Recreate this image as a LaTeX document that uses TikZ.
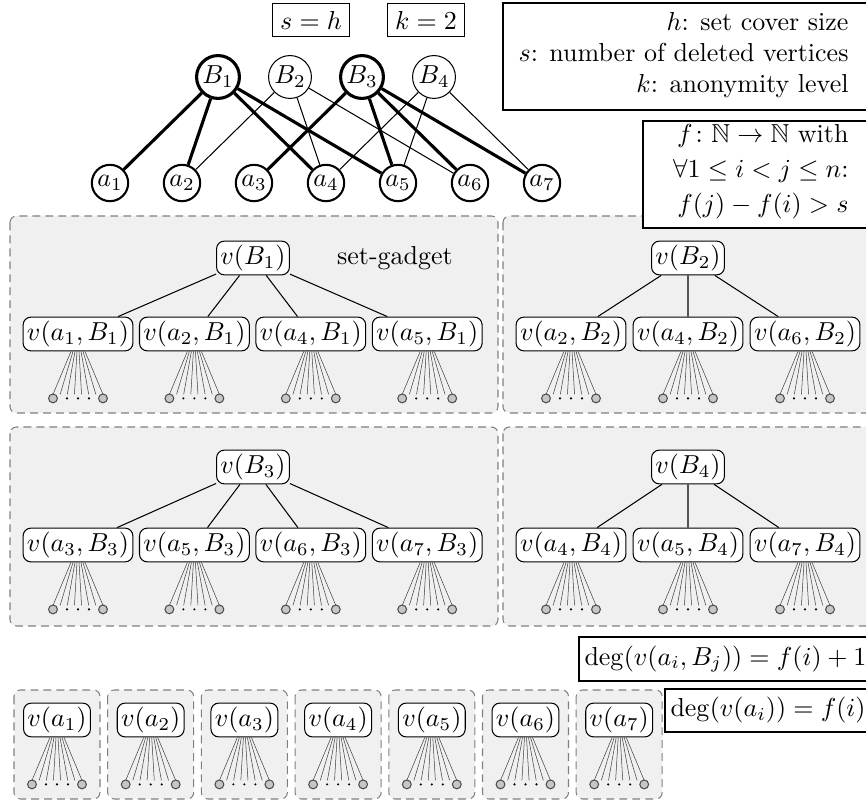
\documentclass[tikz,border=0pt]{standalone}
\usepackage{amsmath}
\usepackage{amssymb}
\usetikzlibrary{calc,positioning}

% leaves hanging below a gadget vertex
\newcommand{\leaffan}[1]{%
  \foreach \k in {0,...,7}
    \draw[fanline] ($(#1.south)+({-7+14*\k/7},0)$) -- ($(#1.south)+({-25+50*\k/7},43)$);
  \node[leaf] (#1l) at ($(#1.south)+(-25,47)$) {};
  \node[leaf] (#1r) at ($(#1.south)+(25,47)$) {};
  \foreach \k in {-11,0,11}
    \fill ($(#1.south)+(\k,47)$) circle (0.45pt);
}

\begin{document}
\begin{tikzpicture}[x=0.385pt,y=-0.385pt,
    setnode/.style={circle,draw,minimum size=16.5pt,inner sep=0pt},
    elemnode/.style={circle,draw,thick,minimum size=14pt,inner sep=0pt},
    chosen/.style={very thick},
    vnode/.style={draw,fill=white,rounded corners=3pt,inner sep=1.5pt},
    gadget/.style={draw=gray,fill=gray!12,dash pattern=on 3pt off 2pt,rounded corners=2.5pt},
    infobox/.style={draw,inner sep=3pt},
    leaf/.style={circle,draw=black!70,fill=gray!45,inner sep=0pt,minimum size=3.4pt},
    fanline/.style={black!75,very thin}]

    \useasboundingbox (0,0) rectangle (866,802);

    % gadget backgrounds
    \draw[gadget] (10,216) rectangle (498,413);
    \draw[gadget] (503,216) rectangle (880,413);
    \draw[gadget] (10,427) rectangle (498,626);
    \draw[gadget] (503,427) rectangle (880,626);

    % set cover instance
    \node[infobox] (sh) at (311,20) {$s=h$};
    \node[infobox] (k2) at (426,20) {$k=2$};

    \node[setnode,chosen] (B1) at (218,77) {$B_1$};
    \node[setnode] (B2) at ($(B1)+(72,0)$) {$B_2$};
    \node[setnode,chosen] (B3) at ($(B2)+(72,0)$) {$B_3$};
    \node[setnode] (B4) at ($(B3)+(72,0)$) {$B_4$};

    \node[elemnode] (a1) at (110,183) {$a_1$};
    \node[elemnode] (a2) at ($(a1)+(72,0)$) {$a_2$};
    \node[elemnode] (a3) at ($(a2)+(72,0)$) {$a_3$};
    \node[elemnode] (a4) at ($(a3)+(72,0)$) {$a_4$};
    \node[elemnode] (a5) at ($(a4)+(72,0)$) {$a_5$};
    \node[elemnode] (a6) at ($(a5)+(72,0)$) {$a_6$};
    \node[elemnode] (a7) at ($(a6)+(72,0)$) {$a_7$};

    \draw (B2)--(a2) (B2)--(a4) (B2)--(a6);
    \draw (B4)--(a4) (B4)--(a5) (B4)--(a7);
    \draw[chosen] (B1)--(a1) (B1)--(a2) (B1)--(a4) (B1)--(a5);
    \draw[chosen] (B3)--(a3) (B3)--(a5) (B3)--(a6) (B3)--(a7);

    % parameters
    \draw (503,3) rectangle (880,110);
    \node[align=right,anchor=east,inner sep=0pt] (legend) at (849,55)
      {$h$: set cover size\\ $s$: number of deleted vertices\\ $k$: anonymity level};
    \draw[fill=white] (643,121) rectangle (880,228);
    \node[align=right,anchor=east,inner sep=0pt] (fdef) at (849,172)
      {$f\colon \mathbb{N}\to\mathbb{N}$ with\\[1.5pt] $\forall 1\le i<j\le n$:\\[1.5pt] $f(j)-f(i)>s$};

    % set-gadget B1
    \node[vnode] (vB1) at (253,258) {$v(B_1)$};
    \node (sglabel) at (395,258) {set-gadget};
    \node[vnode] (va1B1) at (78,334) {$v(a_1,B_1)$};
    \node[vnode] (va2B1) at ($(va1B1)+(116.4,0)$) {$v(a_2,B_1)$};
    \node[vnode] (va4B1) at ($(va2B1)+(116.4,0)$) {$v(a_4,B_1)$};
    \node[vnode] (va5B1) at ($(va4B1)+(116.4,0)$) {$v(a_5,B_1)$};
    \draw (vB1)--(va1B1) (vB1)--(va2B1) (vB1)--(va4B1) (vB1)--(va5B1);
    \leaffan{va1B1} \leaffan{va2B1} \leaffan{va4B1} \leaffan{va5B1}

    % set-gadget B2
    \node[vnode] (vB2) at (688,258) {$v(B_2)$};
    \node[vnode] (va2B2) at (571,334) {$v(a_2,B_2)$};
    \node[vnode] (va4B2) at ($(va2B2)+(117,0)$) {$v(a_4,B_2)$};
    \node[vnode] (va6B2) at ($(va4B2)+(117,0)$) {$v(a_6,B_2)$};
    \draw (vB2)--(va2B2) (vB2)--(va4B2) (vB2)--(va6B2);
    \leaffan{va2B2} \leaffan{va4B2} \leaffan{va6B2}

    % set-gadget B3
    \node[vnode] (vB3) at (253,467) {$v(B_3)$};
    \node[vnode] (va3B3) at (78,545) {$v(a_3,B_3)$};
    \node[vnode] (va5B3) at ($(va3B3)+(116.4,0)$) {$v(a_5,B_3)$};
    \node[vnode] (va6B3) at ($(va5B3)+(116.4,0)$) {$v(a_6,B_3)$};
    \node[vnode] (va7B3) at ($(va6B3)+(116.4,0)$) {$v(a_7,B_3)$};
    \draw (vB3)--(va3B3) (vB3)--(va5B3) (vB3)--(va6B3) (vB3)--(va7B3);
    \leaffan{va3B3} \leaffan{va5B3} \leaffan{va6B3} \leaffan{va7B3}

    % set-gadget B4
    \node[vnode] (vB4) at (688,467) {$v(B_4)$};
    \node[vnode] (va4B4) at (571,545) {$v(a_4,B_4)$};
    \node[vnode] (va5B4) at ($(va4B4)+(117,0)$) {$v(a_5,B_4)$};
    \node[vnode] (va7B4) at ($(va5B4)+(117,0)$) {$v(a_7,B_4)$};
    \draw (vB4)--(va4B4) (vB4)--(va5B4) (vB4)--(va7B4);
    \leaffan{va4B4} \leaffan{va5B4} \leaffan{va7B4}

    % degrees
    \draw (579,637) rectangle (880,681);
    \node[anchor=west,inner sep=0pt] (degset) at (584,659) {$\deg(v(a_i,B_j)) = f(i)+1$};
    \draw (665,689) rectangle (880,732);
    \node[anchor=west,inner sep=0pt] (degelem) at (670,710) {$\deg(v(a_i)) = f(i)$};

    % element-gadgets
    \foreach \i in {1,...,7}{
      \draw[gadget] ({14+93.7*(\i-1)},690) rectangle ++(86,109);
      \node[vnode] (va\i) at ({57+93.7*(\i-1)},720) {$v(a_{\i})$};
      \leaffan{va\i}
    }
\end{tikzpicture}
\end{document}
